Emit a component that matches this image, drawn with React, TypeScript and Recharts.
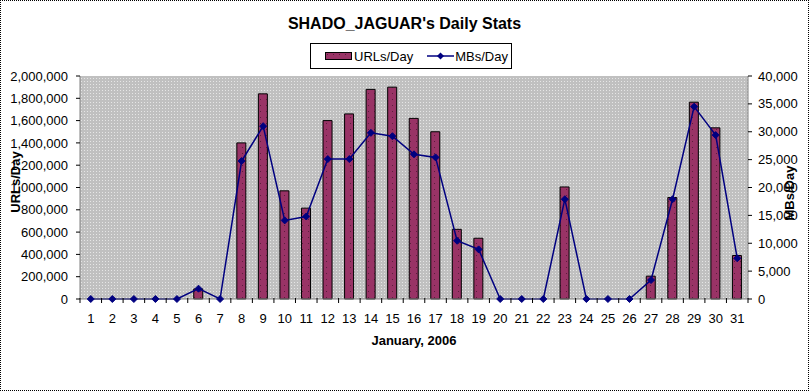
import React from 'react';
import { ComposedChart, Bar, Line, XAxis, YAxis, CartesianGrid } from 'recharts';

const days = [
  '1', '2', '3', '4', '5', '6', '7', '8', '9', '10', '11', '12', '13', '14', '15', '16',
  '17', '18', '19', '20', '21', '22', '23', '24', '25', '26', '27', '28', '29', '30', '31',
];

const urlsPerDay = [
  0, 0, 0, 0, 0, 90000, 0, 1400000, 1840000, 970000, 815000, 1600000, 1660000, 1880000, 1900000,
  1620000, 1500000, 625000, 545000, 0, 0, 0, 1005000, 0, 0, 0, 205000, 910000, 1765000, 1535000, 390000,
];

const mbsPerDay = [
  0, 0, 0, 0, 0, 1850, 0, 24750, 31000, 14100, 14800, 25100, 25100, 29800, 29200,
  25950, 25400, 10450, 8900, 0, 0, 0, 17900, 0, 0, 0, 3400, 17900, 34500, 29400, 7300,
];

const urlTicks = [0, 200000, 400000, 600000, 800000, 1000000, 1200000, 1400000, 1600000, 1800000, 2000000];
const mbTicks = [0, 5000, 10000, 15000, 20000, 25000, 30000, 35000, 40000];

const data = days.map((d, i) => ({ day: d, urls: urlsPerDay[i], mbs: mbsPerDay[i] }));

const W = 809;
const H = 391;
const LEFT_W = 80;
const RIGHT_W = 61;
const TOP = 76;
const X_H = 92;
const BAND = (W - LEFT_W - RIGHT_W) / days.length;
const FONT = '"Liberation Sans", Arial, sans-serif';

const fmt = (v: number) => v.toLocaleString('en-US');

const XTick = (props: any) => {
  const { x, y, payload, index } = props;
  return (
    <g>
      <line x1={x - BAND / 2} x2={x - BAND / 2} y1={y - 1} y2={y + 4} stroke="#000" />
      {index === days.length - 1 && (
        <line x1={x + BAND / 2} x2={x + BAND / 2} y1={y - 1} y2={y + 4} stroke="#000" />
      )}
      <text x={x} y={y + 24} textAnchor="middle" fontSize={13} fontFamily={FONT} fill="#000">
        {payload.value}
      </text>
    </g>
  );
};

const Diamond = (props: any) => {
  const { cx, cy, index } = props;
  if (cx == null || cy == null) return <g key={index} />;
  const r = 3.5;
  return (
    <path
      key={index}
      d={`M${cx},${cy - r}L${cx + r},${cy}L${cx},${cy + r}L${cx - r},${cy}Z`}
      fill="#000080"
      stroke="#000080"
    />
  );
};

export default function App() {
  return (
    <div
      style={{
        position: 'absolute',
        left: 0,
        top: 0,
        width: W,
        height: H,
        background: '#fff',
        fontFamily: FONT,
      }}
    >
      <ComposedChart width={W} height={H} data={data} margin={{ top: TOP, right: 0, bottom: 0, left: 0 }}>
        <defs>
          <pattern id="bgPat" width="3" height="3" patternUnits="userSpaceOnUse">
            <rect width="3" height="3" fill="#c0c0c0" />
            <rect width="1" height="1" fill="#e6e6e6" />
          </pattern>
          <pattern id="barPat" width="6" height="6" patternUnits="userSpaceOnUse">
            <rect width="6" height="6" fill="#993366" />
            <rect x="2" y="3" width="1" height="1" fill="#5a1e3c" />
          </pattern>
        </defs>
        <CartesianGrid horizontal={false} vertical={false} fill="url(#bgPat)" fillOpacity={1} />
        <XAxis
          dataKey="day"
          xAxisId="main"
          height={X_H}
          interval={0}
          tickSize={0}
          tickMargin={0}
          tick={<XTick />}
          axisLine={{ stroke: '#808080' }}
          tickLine={false}
        />
        <XAxis
          dataKey="day"
          xAxisId="top"
          orientation="top"
          height={0}
          tick={false}
          tickLine={false}
          axisLine={{ stroke: '#808080' }}
        />
        <YAxis
          yAxisId="left"
          width={LEFT_W}
          domain={[0, 2000000]}
          ticks={urlTicks}
          interval={0}
          tickFormatter={fmt}
          tick={{ fontSize: 13, fill: '#000', fontFamily: FONT }}
          tickSize={4}
          tickMargin={8}
          axisLine={{ stroke: '#808080' }}
          tickLine={{ stroke: '#000' }}
        />
        <YAxis
          yAxisId="right"
          orientation="right"
          width={RIGHT_W}
          domain={[0, 40000]}
          ticks={mbTicks}
          interval={0}
          tickFormatter={fmt}
          tick={{ fontSize: 13, fill: '#000', fontFamily: FONT }}
          tickSize={4}
          tickMargin={6}
          axisLine={{ stroke: '#808080' }}
          tickLine={{ stroke: '#000' }}
        />
        <Bar
          dataKey="urls"
          xAxisId="main"
          yAxisId="left"
          barSize={9}
          fill="url(#barPat)"
          stroke="#000"
          strokeWidth={1}
          isAnimationActive={false}
        />
        <Line
          dataKey="mbs"
          xAxisId="main"
          yAxisId="right"
          type="linear"
          stroke="#000080"
          strokeWidth={1.5}
          dot={Diamond}
          activeDot={false}
          isAnimationActive={false}
        />
      </ComposedChart>

      <div
        style={{
          position: 'absolute',
          left: 0,
          top: 15,
          width: W,
          textAlign: 'center',
          fontWeight: 'bold',
          fontSize: 16,
        }}
      >
        SHADO_JAGUAR's Daily Stats
      </div>

      <div
        style={{
          position: 'absolute',
          left: 310,
          top: 43,
          width: 202,
          height: 26,
          boxSizing: 'border-box',
          border: '1px solid #000',
          background: '#fff',
          display: 'flex',
          alignItems: 'center',
          fontSize: 13,
        }}
      >
        <svg width={28} height={10} style={{ marginLeft: 14 }}>
          <rect x={0.5} y={1.5} width={26} height={7} fill="url(#barPat)" stroke="#000" />
        </svg>
        <span style={{ marginLeft: 1 }}>URLs/Day</span>
        <svg width={28} height={10} style={{ marginLeft: 14 }}>
          <line x1={0} x2={27} y1={5} y2={5} stroke="#000080" strokeWidth={1.5} />
          <path d="M13.5,1.5L17,5L13.5,8.5L10,5Z" fill="#000080" />
        </svg>
        <span style={{ marginLeft: 0 }}>MBs/Day</span>
      </div>

      <div
        style={{
          position: 'absolute',
          left: 414 - 100,
          top: 333,
          width: 200,
          textAlign: 'center',
          fontWeight: 'bold',
          fontSize: 13,
        }}
      >
        January, 2006
      </div>

      <div
        style={{
          position: 'absolute',
          left: 16 - 50,
          top: 182 - 9,
          width: 100,
          height: 18,
          lineHeight: '18px',
          textAlign: 'center',
          fontWeight: 'bold',
          fontSize: 13,
          transform: 'rotate(-90deg)',
        }}
      >
        URLs/Day
      </div>

      <div
        style={{
          position: 'absolute',
          left: 790 - 50,
          top: 193 - 9,
          width: 100,
          height: 18,
          lineHeight: '18px',
          textAlign: 'center',
          fontWeight: 'bold',
          fontSize: 13,
          transform: 'rotate(-90deg)',
        }}
      >
        MBs/Day
      </div>

      <div
        style={{
          position: 'absolute',
          left: 0,
          top: 0,
          width: W,
          height: H,
          boxSizing: 'border-box',
          border: '1px dotted #000',
          pointerEvents: 'none',
        }}
      />
    </div>
  );
}
